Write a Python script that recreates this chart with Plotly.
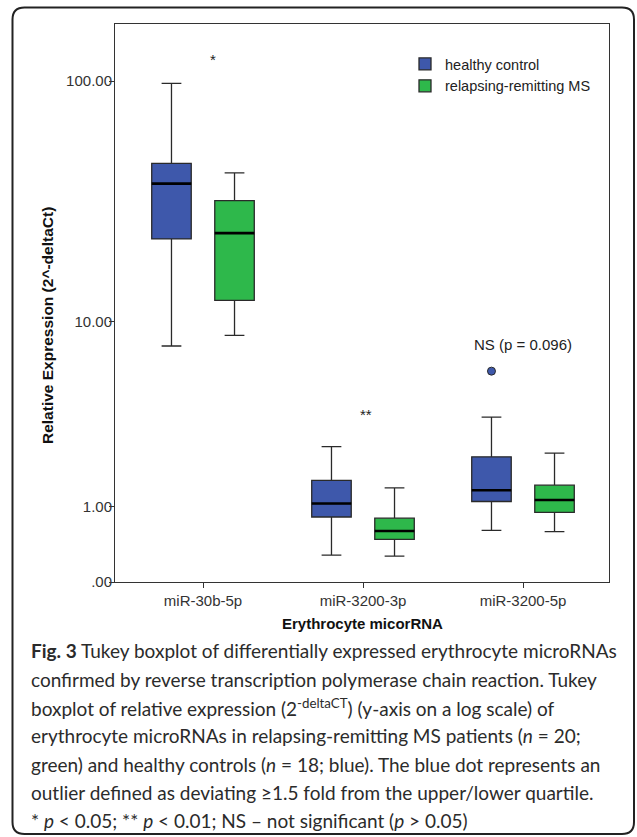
import numpy as np
import plotly.graph_objects as go

categories = ["miR-30b-5p", "miR-3200-3p", "miR-3200-5p"]
groups = ["healthy control", "relapsing-remitting MS"]

# Tukey box stats (raw relative expression)
hc_low = [7.8, 0.28, 0.61]
hc_q1 = [22.6, 0.82, 1.10]
hc_med = [38.3, 1.06, 1.33]
hc_q3 = [46.3, 1.55, 2.17]
hc_high = [97.9, 2.48, 3.57]

rr_low = [8.7, 0.27, 0.59]
rr_q1 = [12.4, 0.48, 0.90]
rr_med = [23.9, 0.60, 1.13]
rr_q3 = [32.6, 0.80, 1.44]
rr_high = [42.4, 1.38, 2.28]

outlier_cat = [2]
outlier_val = [5.98]

sig_text = ["*", "**", "NS (p = 0.096)"]
sig_x = [0.06, 1.02, 2.0]
sig_y = [122.6, 3.7, 7.9]

tick_vals = [0, 1, 10, 100]
tick_text = [".00", "1.00", "10.00", "100.00"]

caption = [
    "<b>Fig. 3</b> Tukey boxplot of differentially expressed erythrocyte microRNAs",
    "confirmed by reverse transcription polymerase chain reaction. Tukey",
    "boxplot of relative expression (2<sup>-deltaCT</sup>) (y-axis on a log scale) of",
    "erythrocyte microRNAs in relapsing-remitting MS patients (<i>n</i> = 20;",
    "green) and healthy controls (<i>n</i> = 18; blue). The blue dot represents an",
    "outlier defined as deviating ≥1.5 fold from the upper/lower quartile.",
    "* <i>p</i> &lt; 0.05; ** <i>p</i> &lt; 0.01; NS – not significant (<i>p</i> &gt; 0.05)",
]

BLUE = "#3e58ab"
GREEN = "#2eb84b"
EDGE = "#2a2a2a"
FONT = "Liberation Sans, Arial, sans-serif"

# SPSS "safe log" axis: values are drawn at v + 1 on a log axis
def sl(vals):
    return [v + 1 for v in vals]

pos = np.arange(len(categories))
shift = 0.197
bw = 0.247

# pixel -> paper helpers (plot area: x 115..609, y 24..582)
def pxx(x):
    return (x - 115) / 494


def pxy(y):
    return (582 - y) / 558


fig = go.Figure()
for name, color, off, lo, q1, md, q3, hi in [
    (groups[0], BLUE, -shift, hc_low, hc_q1, hc_med, hc_q3, hc_high),
    (groups[1], GREEN, shift, rr_low, rr_q1, rr_med, rr_q3, rr_high),
]:
    fig.add_trace(go.Box(
        name=name,
        x=list(pos + off),
        q1=sl(q1), median=sl(md), q3=sl(q3),
        lowerfence=sl(lo), upperfence=sl(hi),
        width=bw, whiskerwidth=0.5,
        fillcolor=color, line=dict(color=EDGE, width=1.3),
        boxpoints=False, hoverinfo="skip",
    ))

# thick median bars
for off, md in [(-shift, hc_med), (shift, rr_med)]:
    xs, ys = [], []
    for p, m in zip(pos + off, sl(md)):
        xs += [p - bw / 2, p + bw / 2, None]
        ys += [m, m, None]
    fig.add_trace(go.Scatter(x=xs, y=ys, mode="lines", line=dict(color="black", width=2.6),
                             showlegend=False, hoverinfo="skip"))

fig.add_trace(go.Scatter(
    x=[pos[c] - shift for c in outlier_cat], y=sl(outlier_val), mode="markers",
    marker=dict(color=BLUE, size=8, line=dict(color=EDGE, width=1)),
    showlegend=False, hoverinfo="skip",
))

for t, x, y in zip(sig_text, sig_x, sig_y):
    fig.add_annotation(x=x, y=np.log10(y + 1), text=t, showarrow=False,
                       font=dict(family=FONT, size=15, color="#222"))

# axis titles
fig.add_annotation(xref="paper", yref="paper", x=pxx(47), y=pxy(326), xanchor="center", yanchor="middle",
                   text="<b>Relative Expression (2^-deltaCt)</b>", textangle=-90, showarrow=False,
                   font=dict(family=FONT, size=15.5, color="#111"))
fig.add_annotation(xref="paper", yref="paper", x=pxx(362), y=pxy(623), xanchor="center", yanchor="middle",
                   text="<b>Erythrocyte micorRNA</b>", showarrow=False,
                   font=dict(family=FONT, size=15, color="#111"))

# caption
for i, line in enumerate(caption):
    fig.add_annotation(xref="paper", yref="paper", x=pxx(29), y=pxy(651 + 28.3 * i), text=line,
                       xanchor="left", yanchor="middle", align="left", showarrow=False,
                       font=dict(family="Lato, Open Sans, sans-serif", size=19, color="#2b2b2b"))

# rounded outer frame
L, T, R, B, r = 12.5, 7.5, 634, 834, 12
pts = [
    ("M", [(L, T + r)]), ("L", [(L, B - r)]), ("Q", [(L, B), (L + r, B)]),
    ("L", [(R - r, B)]), ("Q", [(R, B), (R, B - r)]), ("L", [(R, T + r)]),
    ("Q", [(R, T), (R - r, T)]), ("L", [(L + r, T)]), ("Q", [(L, T), (L, T + r)]),
]
path = " ".join(c + " ".join(f"{pxx(a):.5f},{pxy(b):.5f}" for a, b in p) for c, p in pts) + " Z"
fig.add_shape(type="path", path=path, xref="paper", yref="paper", line=dict(color="#222", width=2))

fig.update_layout(
    width=637, height=837,
    margin=dict(l=115, r=28, t=24, b=255),
    paper_bgcolor="white", plot_bgcolor="white",
    font=dict(family=FONT, size=15, color="#333"),
    legend=dict(x=pxx(405), y=pxy(48), xanchor="left", yanchor="top", bgcolor="rgba(0,0,0,0)",
                font=dict(size=14.5, color="#222"), tracegroupgap=0),
)
fig.update_xaxes(
    range=[-0.55, 2.5375], tickvals=list(pos), ticktext=categories,
    showgrid=False, zeroline=False, showline=True, mirror=True, linecolor="#333", linewidth=1,
    ticks="outside", ticklen=5, tickcolor="#333",
)
fig.update_yaxes(
    type="log", range=[0, np.log10(171)], tickvals=sl(tick_vals), ticktext=tick_text,
    showgrid=False, zeroline=False, showline=True, mirror=True, linecolor="#333", linewidth=1,
    ticks="outside", ticklen=5, tickcolor="#333", ticklabelstandoff=-6,
)

# drop the default 8px body margin so the figure sits at the page origin
fig.write_html("out.html", config={"displayModeBar": False},
               post_script="document.body.style.margin='0';")
